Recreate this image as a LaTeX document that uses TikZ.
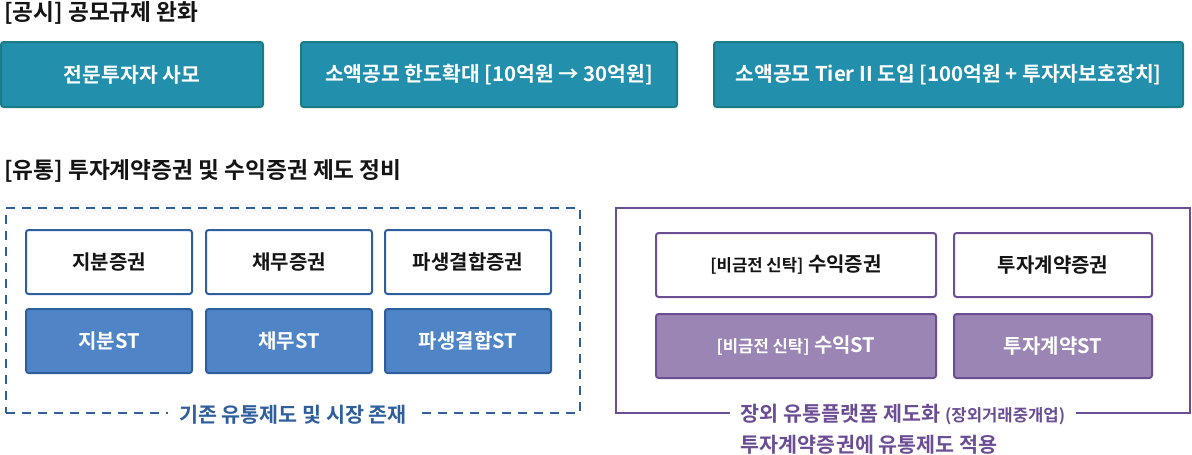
\documentclass[tikz,border=0pt]{standalone}
\usepackage{fontspec}
\setmainfont{Noto Sans CJK KR}[BoldFont={Noto Sans CJK KR Bold}]
\usepackage{xcolor}
\usepackage{tikz}
\usetikzlibrary{positioning,calc}
\definecolor{tealBox}{RGB}{34,143,172}
\definecolor{tealEdge}{RGB}{27,124,134}
\definecolor{blueLine}{RGB}{47,94,157}
\definecolor{blueFill}{RGB}{79,133,199}
\definecolor{purpleLine}{RGB}{107,77,148}
\definecolor{purpleFill}{RGB}{154,133,180}
\definecolor{textBlack}{RGB}{20,20,20}

\begin{document}
\begin{tikzpicture}[x=0.75pt,y=-0.75pt,align=center]
            \tikzset{
                pubbox/.style={
                    draw=tealEdge,
                    fill=tealBox,
                    line width=1.5pt,
                    rounded corners=2pt,
                    minimum height=48.75pt,
                    text=white,
                    font=\fontsize{15.3}{18}\selectfont\bfseries
                },
                secbox/.style={
                    draw=blueLine,
                    fill=white,
                    line width=1.5pt,
                    rounded corners=2pt,
                    minimum width=124.5pt,
                    minimum height=48pt,
                    text=textBlack,
                    font=\fontsize{15}{18}\selectfont\bfseries
                },
                stbox/.style={secbox, fill=blueFill, text=white},
                otcbox/.style={secbox, draw=purpleLine},
                otcst/.style={otcbox, fill=purpleFill, text=white},
                heading/.style={
                    anchor=west,
                    inner sep=0pt,
                    text=textBlack,
                    font=\fontsize{17}{20}\selectfont\bfseries
                },
                framelabel/.style={
                    fill=white,
                    inner xsep=8pt,
                    inner ysep=3pt,
                    font=\fontsize{15.5}{18}\selectfont\bfseries
                }
            }
            \useasboundingbox (0,0) rectangle (1192,454);

            % Public offering
            \node[heading] (Pub_Title) at (4,13) {[공시] 공모규제 완화};
            \node[pubbox,minimum width=196.5pt] (Pub_Pro) at (132,74.5) {전문투자자 사모};
            \node[pubbox,minimum width=282pt] (Pub_Limit) at (489,74.5) {소액공모 한도확대 [10억원 → 30억원]};
            \node[pubbox,minimum width=351.75pt] (Pub_Tier) at (948.5,74.5) {소액공모 Tier II 도입 [100억원 + 투자자보호장치]};

            % Distribution
            \node[heading] (Dist_Title) at (4,171) {[유통] 투자계약증권 및 수익증권 제도 정비};

            \node[
                draw=blueLine,
                line width=1.9pt,
                dash pattern=on 6.75pt off 5.25pt,
                minimum width=430.5pt,
                minimum height=153.75pt
            ] (Dist_Box) at (293,310.5) {};

            \node[secbox] (Dist_Equity) at (109,262) {지분증권};
            \node[secbox] (Dist_Debt) at (289,262) {채무증권};
            \node[secbox] (Dist_Deriv) at (468,262) {파생결합증권};
            \node[stbox] (ST_Equity) at (109,341) {지분ST};
            \node[stbox] (ST_Debt) at (289,341) {채무ST};
            \node[stbox] (ST_Deriv) at (468,341) {파생결합ST};

            \node[framelabel,text=blueLine] (Dist_Label) at (Dist_Box.south) {기존 유통제도 및 시장 존재};

            % OTC platform
            \node[
                draw=purpleLine,
                line width=1.9pt,
                minimum width=430.5pt,
                minimum height=153.75pt
            ] (Otc_Box) at (903,310.5) {};

            \node[otcbox,minimum width=210pt] (Otc_Trust) at (796,265) {{\fontsize{12.5}{15}\selectfont [비금전 신탁]} 수익증권};
            \node[otcbox,minimum width=148.5pt] (Otc_Invest) at (1053,265) {투자계약증권};
            \node[otcst,minimum width=210pt] (ST_Trust) at (796,346) {{\fontsize{12.5}{15}\selectfont [비금전 신탁]} 수익ST};
            \node[otcst,minimum width=148.5pt] (ST_Invest) at (1053,346) {투자계약ST};

            \node[framelabel,text=purpleLine] (Otc_Label) at (Otc_Box.south)
                {장외 유통플랫폼 제도화 {\fontsize{12.5}{15}\selectfont (장외거래중개업)}};
            \node[framelabel,fill=none,text=purpleLine,anchor=west] (Otc_Note)
                at ([yshift=-22.5pt]Otc_Label.west) {투자계약증권에 유통제도 적용};
        \end{tikzpicture}
\end{document}
